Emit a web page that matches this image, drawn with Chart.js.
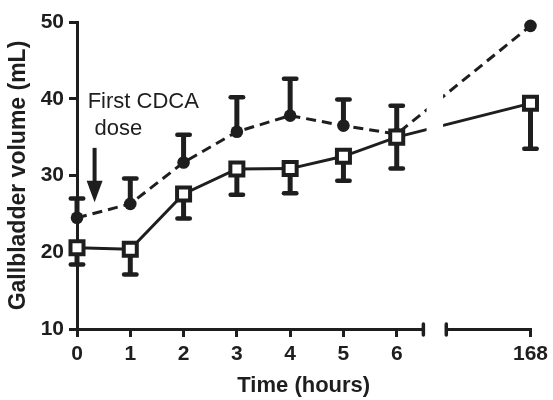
<!DOCTYPE html>
<html>
<head>
<meta charset="utf-8">
<script src="https://cdn.jsdelivr.net/npm/chart.js@4"></script>
<style>
  html, body { margin: 0; padding: 0; background: #fff; }
</style>
</head>
<body>
<canvas id="chart" width="553" height="400"></canvas>
<script>
const hours = [0, 1, 2, 3, 4, 5, 6, 168];
const hourLabels = ['0', '1', '2', '3', '4', '5', '6', '168'];

// open squares, solid line (error bars point down)
const volSquares = [20.6, 20.4, 27.6, 30.85, 30.9, 32.5, 35.0, 39.4];
const errSquares = [2.2, 3.3, 3.2, 3.35, 3.2, 3.2, 4.1, 5.9];

// filled circles, dashed line (error bars point up)
const volCircles = [24.5, 26.3, 31.7, 35.7, 37.8, 36.5, 35.4, 49.5];
const errCircles = [2.5, 3.3, 3.6, 4.5, 4.8, 3.4, 3.7, 0];

// broken x axis: 0-6 h linear, then 168 h placed after the break
const breakFrom = 6.5, breakTo = 6.93, lastPos = 8.51;
const axisPos = h => h <= 6 ? h : lastPos;

const ink = '#1e1e1e';
const fontFam = '"Liberation Sans", Arial, sans-serif';

const errorBars = {
  id: 'errorBars',
  beforeDatasetsDraw(chart) {
    const {ctx, scales: {x, y}} = chart;
    ctx.save();
    ctx.strokeStyle = ink;
    const draw = (vals, errs, dir) => {
      vals.forEach((v, i) => {
        if (!errs[i]) return;
        const px = x.getPixelForValue(axisPos(hours[i]));
        const py = y.getPixelForValue(v);
        const pe = y.getPixelForValue(v + dir * errs[i]);
        ctx.lineWidth = 5;
        ctx.lineCap = 'butt';
        ctx.beginPath(); ctx.moveTo(px, py); ctx.lineTo(px, pe); ctx.stroke();
        ctx.lineWidth = 4.5;
        ctx.lineCap = 'round';
        ctx.beginPath(); ctx.moveTo(px - 6.2, pe); ctx.lineTo(px + 6.2, pe); ctx.stroke();
      });
    };
    draw(volSquares, errSquares, -1);
    draw(volCircles, errCircles, 1);
    ctx.restore();
  }
};

const axisBreak = {
  id: 'axisBreak',
  afterDatasetsDraw(chart) {
    const {ctx, chartArea, scales: {x}} = chart;
    const gapL = x.getPixelForValue(6.56), gapR = x.getPixelForValue(6.87);
    const b0 = x.getPixelForValue(breakFrom), b1 = x.getPixelForValue(breakTo);
    ctx.save();
    ctx.fillStyle = '#fff';
    ctx.fillRect(gapL, chartArea.top - 5, gapR - gapL, chartArea.bottom - chartArea.top + 5);
    ctx.fillRect(b0, chartArea.bottom - 4, b1 - b0, 8);
    ctx.strokeStyle = ink;
    ctx.lineWidth = 3.5;
    ctx.lineCap = 'round';
    [b0, b1].forEach(bx => {
      ctx.beginPath();
      ctx.moveTo(bx, chartArea.bottom - 5);
      ctx.lineTo(bx, chartArea.bottom + 6);
      ctx.stroke();
    });
    ctx.restore();
  }
};

const doseNote = {
  id: 'doseNote',
  afterDraw(chart) {
    const {ctx, scales: {x, y}} = chart;
    ctx.save();
    ctx.fillStyle = ink;
    ctx.font = '22px ' + fontFam;
    ctx.textBaseline = 'alphabetic';
    ctx.fillText('First CDCA', x.getPixelForValue(0.2), y.getPixelForValue(38.8));
    ctx.fillText('dose', x.getPixelForValue(0.33), y.getPixelForValue(35.3));
    const ax = x.getPixelForValue(0.33);
    const top = y.getPixelForValue(33.6);
    const head = y.getPixelForValue(29.3);
    const tip = y.getPixelForValue(26.5);
    ctx.fillRect(ax - 2, top, 4, head - top + 1);
    ctx.beginPath();
    ctx.moveTo(ax - 8, head);
    ctx.lineTo(ax + 8, head);
    ctx.lineTo(ax, tip);
    ctx.closePath();
    ctx.fill();
    ctx.restore();
  }
};

new Chart(document.getElementById('chart'), {
  type: 'line',
  data: {
    datasets: [{
      data: hours.map((h, i) => ({x: axisPos(h), y: volSquares[i]})),
      borderColor: ink,
      borderWidth: 3,
      pointStyle: 'rect',
      pointRadius: 9.2,
      pointBorderWidth: 4,
      pointBorderColor: ink,
      pointBackgroundColor: '#fff',
      clip: false
    }, {
      data: hours.map((h, i) => ({x: axisPos(h), y: volCircles[i]})),
      borderColor: ink,
      borderWidth: 3,
      borderDash: [10, 6],
      pointStyle: 'circle',
      pointRadius: 6.3,
      pointBorderWidth: 0,
      pointBackgroundColor: ink,
      clip: false
    }]
  },
  options: {
    responsive: false,
    animation: false,
    devicePixelRatio: 1,
    layout: { padding: { left: 0, top: 22, right: 18, bottom: 0 } },
    plugins: { legend: { display: false }, tooltip: { enabled: false } },
    scales: {
      x: {
        type: 'linear',
        min: 0,
        max: lastPos,
        afterFit: s => { s.height = 71; },
        afterBuildTicks: s => { s.ticks = hours.map(h => ({value: axisPos(h)})); },
        grid: { drawOnChartArea: false, tickLength: 8, lineWidth: 3, color: ink },
        border: { color: ink, width: 3 },
        ticks: {
          color: ink,
          padding: 5,
          maxRotation: 0,
          autoSkip: false,
          font: { family: fontFam, size: 21, weight: 'bold' },
          callback: (v, i) => hourLabels[i]
        },
        title: {
          display: true,
          text: 'Time (hours)',
          color: ink,
          padding: { top: 0, bottom: 1 },
          font: { family: fontFam, size: 22, weight: 'bold' }
        }
      },
      y: {
        min: 10,
        max: 50,
        afterFit: s => { s.width = 77; },
        grid: { drawOnChartArea: false, tickLength: 8, lineWidth: 3, color: ink },
        border: { color: ink, width: 3 },
        ticks: {
          stepSize: 10,
          color: ink,
          padding: 5,
          font: { family: fontFam, size: 21, weight: 'bold' }
        },
        title: {
          display: true,
          text: 'Gallbladder volume (mL)',
          color: ink,
          padding: { top: 5, bottom: 0 },
          font: { family: fontFam, size: 23, weight: 'bold' }
        }
      }
    }
  },
  plugins: [errorBars, axisBreak, doseNote]
});
</script>
</body>
</html>
